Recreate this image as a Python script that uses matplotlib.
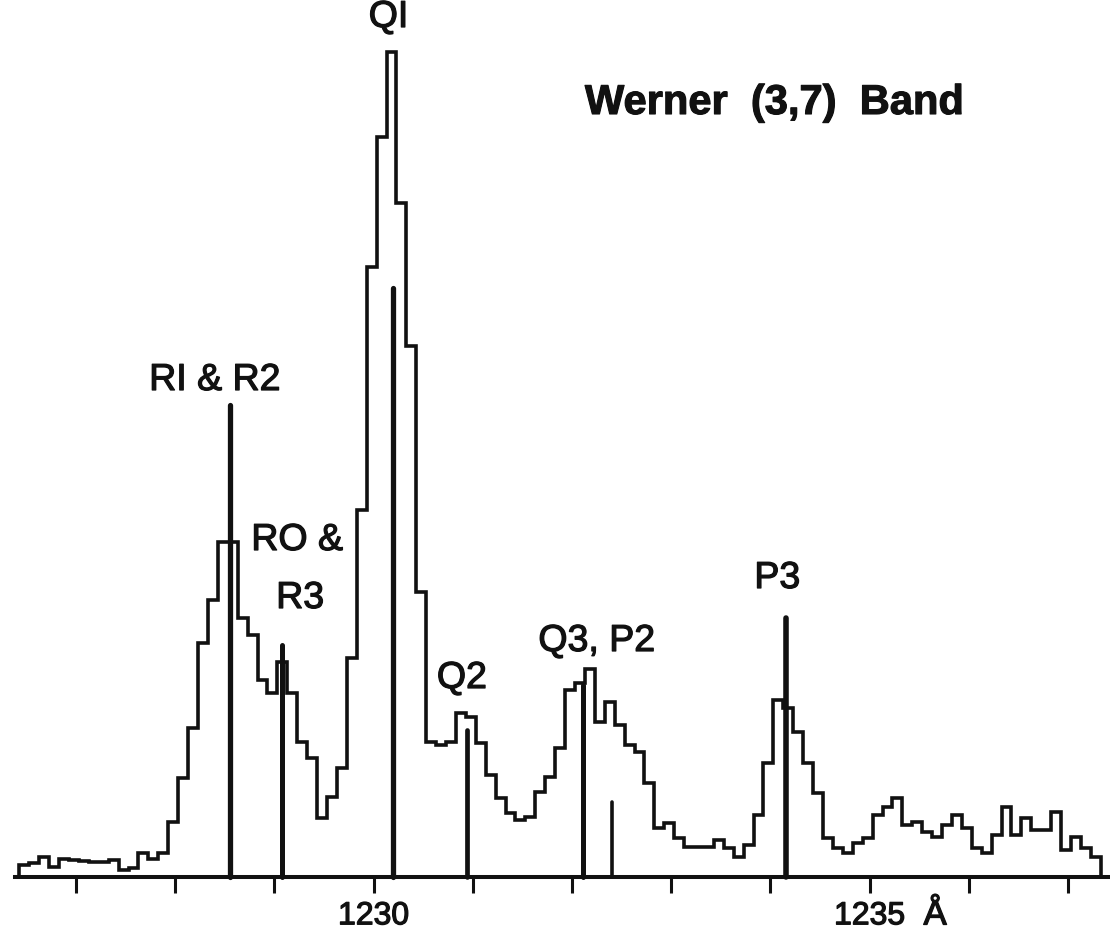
import numpy as np
import matplotlib.pyplot as plt
import matplotlib.patheffects as pe

# binned spectrum (0.1 A bins), heights in arbitrary units
bin_start = 1226.43
bin_width = 0.1
counts = [
    12, 14, 20, 10, 18, 17, 16, 15, 15, 17,
    7, 9, 24, 18, 24, 55, 99, 149, 234, 277,
    335, 335, 259, 242, 197, 184, 215, 184, 135, 119,
    59, 80, 109, 219, 367, 610, 740, 825, 674, 531,
    285, 135, 132, 135, 164, 160, 134, 102, 79, 64,
    57, 60, 85, 100, 129, 187, 194, 208, 155, 175,
    152, 132, 125, 94, 49, 54, 39, 30, 30, 30,
    37, 29, 20, 32, 62, 114, 177, 169, 145, 114,
    84, 39, 29, 24, 34, 39, 62, 70, 79, 52,
    55, 45, 40, 52, 62, 49, 29, 24, 42, 70,
    42, 59, 47, 47, 65, 27, 40, 29, 20,
]

# computed line positions and strengths
line_wl = [1228.557, 1229.075, 1230.197, 1230.94, 1232.114, 1232.40, 1234.158]
line_str = [472, 232, 589, 147, 192, 75, 259]
line_lw = [3.8, 3.6, 3.8, 3.4, 3.6, 2.6, 4.0]

line_labels = ["RI & R2", "RO &", "R3", "QI", "Q2", "Q3, P2", "P3"]
label_x = [1228.40, 1229.23, 1229.26, 1230.15, 1230.89, 1232.25, 1234.07]
label_y = [497, 337, 279, 860, 199, 236, 299]

xticks = [1227, 1228, 1229, 1230, 1231, 1232, 1233, 1234, 1235, 1236, 1237]
xtick_labels = ["", "", "", "1230", "", "", "", "", "1235", "", ""]

plt.rcParams['font.family'] = ['Liberation Sans', 'DejaVu Sans']

fig = plt.figure(figsize=(11.1, 9.36), dpi=100)
ax = fig.add_axes([0, 0, 1, 1])

ink = '#111111'
thick = [pe.withStroke(linewidth=0.9, foreground=ink)]

edges = bin_start + bin_width * np.arange(len(counts) + 1)
ax.stairs(counts, edges, color=ink, lw=2.6)
ax.vlines(line_wl, 0, line_str, colors=ink, lw=line_lw, capstyle='round')

for txt, x, y in zip(line_labels, label_x, label_y):
    ax.text(x, y, txt, ha='center', va='center', fontsize=27, color=ink,
            path_effects=thick)

ax.text(1232.13, 774, "Werner  (3,7)  Band", ha='left', va='center',
        fontsize=30, fontweight='bold', color=ink,
        path_effects=[pe.withStroke(linewidth=0.8, foreground=ink)])
ax.text(1235.66, -38, "Å", ha='center', va='center', fontsize=25, color=ink,
        path_effects=thick)

ax.set_xlim(1226.234, 1237.423)
ax.set_ylim(-59, 877)

for s in ['top', 'left', 'right']:
    ax.spines[s].set_visible(False)
ax.spines['bottom'].set_position(('data', 0))
ax.spines['bottom'].set_bounds(1226.386, 1237.423)
ax.spines['bottom'].set_linewidth(2.9)
ax.spines['bottom'].set_color(ink)

ax.set_xticks(xticks)
ax.set_xticklabels(xtick_labels)
ax.tick_params(axis='x', direction='out', length=11.5, width=2.2, pad=6,
               labelsize=23, colors=ink)
for lbl in ax.get_xticklabels():
    lbl.set_path_effects(thick)
ax.set_yticks([])

fig.savefig("out.png", dpi=100)
